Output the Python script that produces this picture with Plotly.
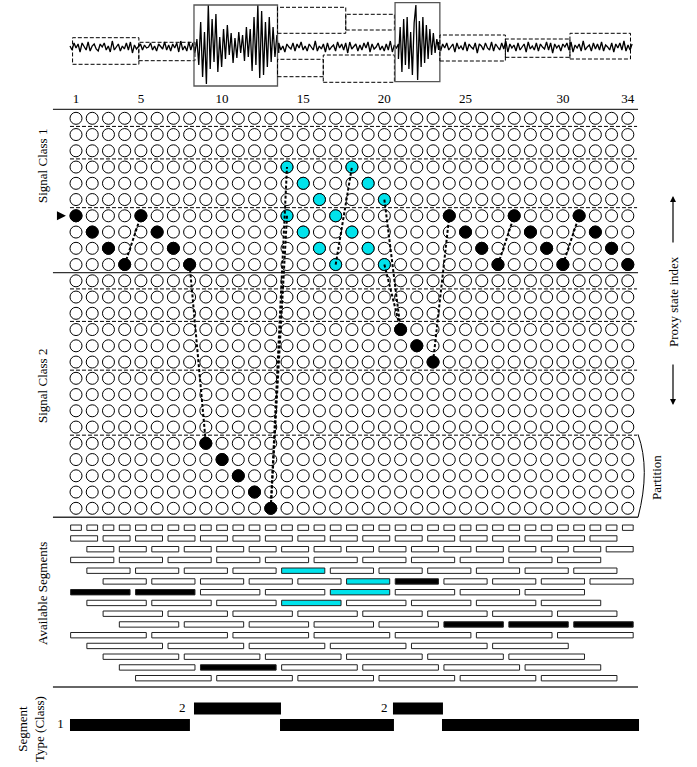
import plotly.graph_objects as go

# ---------------- data ----------------
n_cols = 35
n_rows = 25
col_tick_pos = [1, 5, 10, 15, 20, 25, 31, 35]
col_tick_text = ["1", "5", "10", "15", "20", "25", "30", "34"]

black_cols = [1, 2, 3, 4, 5, 6, 7, 8, 9, 10, 11, 12, 13, 21, 22, 23,
              24, 25, 26, 27, 28, 29, 30, 31, 32, 33, 34, 35]
black_rows = [7, 8, 9, 10, 7, 8, 9, 10, 21, 22, 23, 24, 25, 14, 15, 16,
              7, 8, 9, 10, 7, 8, 9, 10, 7, 8, 9, 10]
cyan_cols = [14, 15, 16, 18, 19, 20, 14, 15, 16, 17, 17, 18, 19, 20]
cyan_rows = [4, 5, 6, 4, 5, 6, 7, 8, 9, 10, 7, 8, 9, 10]

link_from_col = [4, 8, 13, 13, 17, 20, 20, 23, 27, 31]
link_from_row = [10, 10, 25, 25, 10, 6, 10, 16, 10, 10]
link_to_col = [5, 9, 14, 14, 18, 21, 21, 24, 28, 32]
link_to_row = [7, 21, 4, 7, 4, 14, 14, 7, 7, 7]

partition_dashed_rows = [1.5, 3.5, 6.5, 11.5, 13.5, 16.5, 20.5]
class_divider_rows = [0.45, 10.5, 25.55]

seg_row_len = [1, 2, 2, 3, 3, 3, 4, 4, 4, 4, 5, 5, 5, 5, 5]
seg_row_offset = [0, 0, 1, 0, 1, 2, 0, 1, 2, 3, 0, 1, 2, 3, 4]
black_seg_row = [7, 7, 14, 6, 10, 10, 10]
black_seg_start = [1, 5, 9, 21, 24, 28, 32]
cyan_seg_row = [5, 6, 7, 8]
cyan_seg_start = [14, 18, 17, 14]

type_class = [1, 2, 1, 2, 1]
type_start = [0.63, 8.27, 13.57, 20.53, 23.55]
type_end = [8.02, 13.63, 20.59, 23.61, 35.69]

# waveform (time in segment units, amplitude in arbitrary units)
wave_parts_t = [(0.0, 7.9), (7.9, 13.0), (13.0, 20.45), (20.45, 22.95), (22.95, 35.0)]
wave_quiet_1 = [1, -3, 4, -1, 3, -5, 4, 0, -3, 5, -4, 1, 3, -2, -4, 3, 0, 4, -3, 1, -5, 6, -3, 0,
                3, -4, 1, -2, 4, -3, 5, -6, 2, -2, 0, 3, -3, 2, -1, 0, 4, -3, 1, -4, 3, 0, -2, 5,
                -3, 2, -4, 3, -1, 4, -5, 6, -3, 1, -4, 5, -3, 4, -6, 7]
wave_burst_1 = [8, -18, 25, -30, 15, -37, 42, -22, 28, -15, 33, -25, 10, -20, 18, -12, 22, -8,
                14, -16, 9, -11, 15, -6, 12, -14, 20, -10, 18, -24, 30, -18, 42, -31, 36, -28,
                25, -20, 30, -15, 20, -10, 12, -6]
wave_quiet_2 = [4, -3, 1, -5, 3, 0, -2, 4, -4, 3, -1, 5, -3, 1, -4, 3, 0, -3, 6, -4, 1, -2, 3, -5,
                4, -3, 0, 2, -4, 5, -1, 3, -3, 4, -6, 5, -2, 0, 3, -4, 2, -3, 4, -1, 5, -5, 3, -2,
                0, 4, -3, 1, -4, 3, -3, 6, -5, 2, -1, 3]
wave_burst_2 = [-12, 20, -25, 28, -18, 30, -22, 15, -28, 24, 42, -33, 26, -20, 30, -16, 22, -12,
                18, -8, 14, -6, 8, -3]
wave_quiet_3 = [5, -4, 3, -1, 4, -3, 0, 3, -5, 4, -2, 1, -3, 5, -4, 3, 0, -2, 4, -6, 3, 1, -3, 4,
                -1, -3, 5, -4, 3, 0, -3, 4, -2, 6, -5, 3, -1, 2, -4, 4, -3, 0, 3, -5, 5, -2, 1, -3,
                4, -4, 3, 0, -2, 5, -3, 4, -6, 3, -1, 2, -4, 3, 0, 4, -3, 5, -5, 2, -1, 3, -4, 6,
                -3, 0, 2, -4, 4, -2, 3, -3, 5, -4, 2, 0, -3, 4, -5, 3, -1, 4, -3, 6, -4, 2, -3, 3]
wave_parts = [wave_quiet_1, wave_burst_1, wave_quiet_2, wave_burst_2, wave_quiet_3]

# boxes drawn around the waveform (time start/end, amplitude low/high, solid?)
box_t0 = [0.16, 4.28, 7.72, 12.92, 17.17, 12.92, 15.77, 20.24, 23.03, 27.11, 31.13]
box_t1 = [4.29, 7.78, 12.92, 17.17, 20.2, 15.77, 20.2, 23.03, 27.11, 31.13, 34.9]
box_v0 = [-17.3, -13.7, -39, 13.7, 17, -29.7, -35.3, -34.7, -14, -10.3, -12]
box_v1 = [9.3, 4.7, 42, 39.7, 32.7, -12.3, -8, 44.3, 12, 8, 13.7]
box_solid = [False, False, True, False, False, False, False, True, False, False, False]

# ---------------- figure ----------------
W, H = 697, 767
FONT = "Liberation Serif"
CYAN = "#00e3ec"

fig = go.Figure()

# grid of open circles
gx, gy = [], []
for r in range(1, n_rows + 1):
    for c in range(1, n_cols + 1):
        gx.append(c)
        gy.append(r)
fig.add_trace(go.Scatter(x=gx, y=gy, xaxis="x", yaxis="y2", mode="markers", cliponaxis=False,
                         marker=dict(size=12, color="white", line=dict(color="black", width=1)),
                         hoverinfo="skip"))
fig.add_trace(go.Scatter(x=black_cols, y=black_rows, xaxis="x", yaxis="y2", mode="markers",
                         cliponaxis=False,
                         marker=dict(size=12, color="black", line=dict(color="black", width=1)),
                         hoverinfo="skip"))
fig.add_trace(go.Scatter(x=cyan_cols, y=cyan_rows, xaxis="x", yaxis="y2", mode="markers",
                         cliponaxis=False,
                         marker=dict(size=12, color=CYAN, line=dict(color="black", width=1)),
                         hoverinfo="skip"))

# dashed links
lx, ly = [], []
for c0, r0, c1, r1 in zip(link_from_col, link_from_row, link_to_col, link_to_row):
    lx += [c0, c1, None]
    ly += [r0, r1, None]
fig.add_trace(go.Scatter(x=lx, y=ly, xaxis="x", yaxis="y2", mode="lines", cliponaxis=False,
                         line=dict(color="black", width=2, dash="3px,2px"), hoverinfo="skip"))

# column labels
fig.add_trace(go.Scatter(x=col_tick_pos, y=[-0.13] * len(col_tick_pos), xaxis="x", yaxis="y2",
                         mode="text", text=col_tick_text, cliponaxis=False,
                         textfont=dict(family=FONT, size=13, color="black"), hoverinfo="skip"))

# waveform
wt, wv = [], []
for (t0, t1), vals in zip(wave_parts_t, wave_parts):
    n = len(vals)
    for i, v in enumerate(vals):
        wt.append(t0 + (t1 - t0) * i / (n - 1) if n > 1 else t0)
        wv.append(v)
fig.add_trace(go.Scatter(x=wt, y=wv, xaxis="x2", yaxis="y", mode="lines", cliponaxis=False,
                         line=dict(color="black", width=1.3), hoverinfo="skip"))

# segment type labels
fig.add_trace(go.Scatter(x=[0.05, 7.55, 20.0], y=[1, 2, 2], xaxis="x", yaxis="y4", mode="text",
                         text=["1", "2", "2"], cliponaxis=False,
                         textfont=dict(family=FONT, size=13, color="black"), hoverinfo="skip"))

shapes = []
for t0, t1, v0, v1, solid in zip(box_t0, box_t1, box_v0, box_v1, box_solid):
    shapes.append(dict(type="rect", xref="x2", yref="y", x0=t0, x1=t1, y0=v0, y1=v1,
                       line=dict(color="#555555" if solid else "black", width=1.3 if solid else 1,
                                 dash="solid" if solid else "4px,2px"),
                       fillcolor="rgba(0,0,0,0)", layer="above"))

# horizontal separators in grid
for r in partition_dashed_rows:
    shapes.append(dict(type="line", xref="x", yref="y2", x0=0.63, x1=35.57, y0=r, y1=r,
                       line=dict(color="black", width=1, dash="4px,2px"), layer="below"))
for r in class_divider_rows:
    shapes.append(dict(type="line", xref="x", yref="y2", x0=-0.42, x1=35.63, y0=r, y1=r,
                       line=dict(color="#333333", width=1.3), layer="below"))
# partition brace
shapes.append(dict(type="path", xref="x", yref="y2",
                   path="M 35.63,20.45 Q 36.4,22.6 35.63,25.55",
                   line=dict(color="black", width=1)))

# available segments
GAP = 0.17
HH = 0.25
black_set = set(zip(black_seg_row, black_seg_start))
cyan_set = set(zip(cyan_seg_row, cyan_seg_start))
for s, (L, off) in enumerate(zip(seg_row_len, seg_row_offset), start=1):
    start = 1 + off
    while start + L - 1 <= n_cols:
        if (s, start) in black_set:
            fill = "black"
        elif (s, start) in cyan_set:
            fill = CYAN
        else:
            fill = "white"
        shapes.append(dict(type="rect", xref="x", yref="y3",
                           x0=start - 0.5 + GAP, x1=start + L - 1 + 0.5 - GAP,
                           y0=s - HH, y1=s + HH, fillcolor=fill,
                           line=dict(color="#222222", width=1)))
        start += L
shapes.append(dict(type="line", xref="x", yref="y3", x0=-0.42, x1=35.63, y0=15.82, y1=15.82,
                   line=dict(color="#333333", width=1.3)))

# segment type bars
for k, a, b in zip(type_class, type_start, type_end):
    shapes.append(dict(type="rect", xref="x", yref="y4", x0=a, x1=b, y0=k - 0.36, y1=k + 0.36,
                       fillcolor="black", line=dict(color="black", width=0)))


def px(xp):
    return xp / W


def py(yp):
    return 1 - yp / H


ann = []
lab_font = dict(family=FONT, size=13, color="black")
for text, x, y in [("Signal Class 1", 42, 166), ("Signal Class 2", 42, 386),
                   ("Available Segments", 42, 594), ("Segment<br>Type (Class)", 31, 729),
                   ("Proxy state index", 673, 302), ("Partition", 656, 478)]:
    ann.append(dict(text=text, x=px(x), y=py(y), xref="paper", yref="paper", textangle=-90,
                    showarrow=False, font=lab_font, xanchor="center", yanchor="middle"))
# arrows next to proxy label
ann.append(dict(text="", x=px(673), y=py(196), xref="paper", yref="paper", ax=0, ay=48,
                showarrow=True, arrowhead=2, arrowsize=1, arrowwidth=1.2, arrowcolor="black"))
ann.append(dict(text="", x=px(673), y=py(405), xref="paper", yref="paper", ax=0, ay=-42,
                showarrow=True, arrowhead=2, arrowsize=1, arrowwidth=1.2, arrowcolor="black"))
# small arrow pointing to the start state
ann.append(dict(text="", x=0.38, y=7, xref="x", yref="y2", ax=-8, ay=0,
                showarrow=True, arrowhead=2, arrowsize=1.2, arrowwidth=1.5, arrowcolor="black"))

# panel boundaries (pixels from top): waveform 0-95, grid 95-520, segments 520-692, type 692-767
ax_common = dict(visible=False, showgrid=False, zeroline=False, fixedrange=True)
fig.update_layout(
    width=W, height=H, margin=dict(l=0, r=0, t=0, b=0, pad=0),
    paper_bgcolor="white", plot_bgcolor="rgba(0,0,0,0)", showlegend=False,
    shapes=shapes, annotations=ann,
    xaxis=dict(range=[1 - 76 / 16.23, 1 + (W - 76) / 16.23], domain=[0, 1], anchor="y4", **ax_common),
    xaxis2=dict(range=[-70 / 16.06, (W - 70) / 16.06], overlaying="x", anchor="y", **ax_common),
    yaxis=dict(range=[47 - 95, 47], domain=[1 - 95 / H, 1], anchor="x2", **ax_common),
    yaxis2=dict(range=[1 + (520 - 118.3) / 16.25, 1 + (95 - 118.3) / 16.25],
                domain=[1 - 520 / H, 1 - 95 / H], anchor="x", **ax_common),
    yaxis3=dict(range=[1 + (692 - 527.7) / 10.75, 1 + (520 - 527.7) / 10.75],
                domain=[1 - 692 / H, 1 - 520 / H], anchor="x", **ax_common),
    yaxis4=dict(range=[1 - (767 - 725) / 16.5, 1 + (725 - 692) / 16.5],
                domain=[0, 1 - 692 / H], anchor="x", **ax_common),
)

fig.write_html("out.html", config={"displayModeBar": False},
               post_script="document.body.style.margin='0px';")
